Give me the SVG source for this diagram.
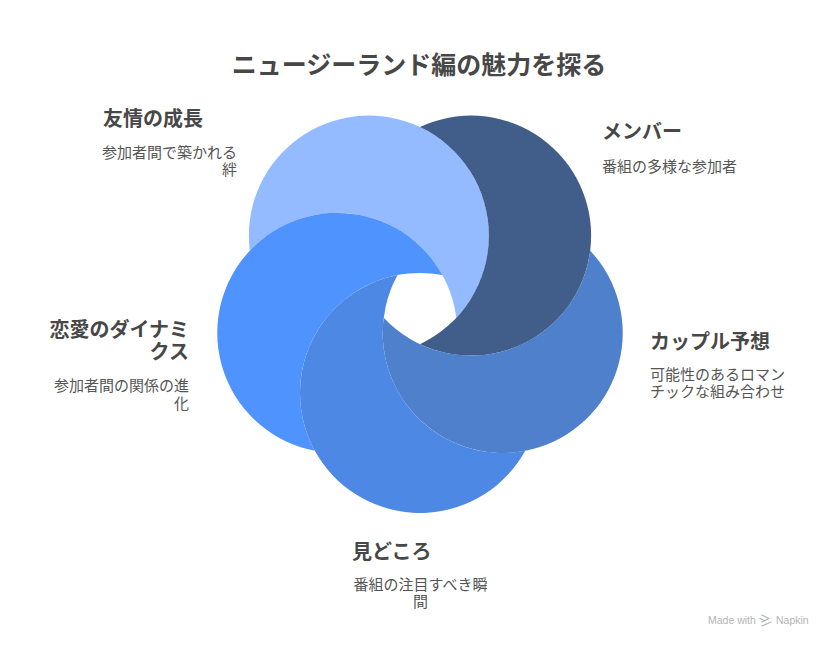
<svg xmlns="http://www.w3.org/2000/svg" width="840" height="648" viewBox="0 0 840 648">
  <style>
    text { font-family: "Noto Sans CJK JP", "Noto Sans", sans-serif; }
    .title { font-size: 25px; font-weight: 700; fill: #474747; }
    .head { font-size: 20px; font-weight: 700; fill: #474747; }
    .desc { font-size: 15px; fill: #555555; }
    .mark { font-family: "Liberation Sans", Arial, sans-serif; font-size: 10.5px; fill: #b4b4b4; }
  </style>
  <rect x="0" y="0" width="840" height="648" fill="#ffffff"/>
  <text class="title" x="419" y="74" text-anchor="middle">ニュージーランド編の魅力を探る</text>

  <g id="connectors"></g>

  <g id="node-friendship">
    <path d="M 249.82 250.70 A 120 120 0 1 1 456.31 317.80 A 120 120 0 0 0 249.82 250.70 Z" fill="#94bbff"/>
    <text class="head" x="103" y="126">友情の成長</text>
    <text class="desc" x="237" y="158" text-anchor="end">参加者間で築かれる</text>
    <text class="desc" x="237" y="175" text-anchor="end">絆</text>
  </g>

  <g id="node-members">
    <path d="M 420 127.06 A 120 120 0 1 1 420 344.18 A 120 120 0 0 0 420 127.06 Z" fill="#415d89"/>
    <text class="head" x="602" y="139">メンバー</text>
    <text class="desc" x="602" y="172">番組の多様な参加者</text>
  </g>

  <g id="node-couple">
    <path d="M 590.18 250.70 A 120 120 0 1 1 383.69 317.80 A 120 120 0 0 0 590.18 250.70 Z" fill="#4f80cb"/>
    <text class="head" x="650" y="349">カップル予想</text>
    <text class="desc" x="650" y="380">可能性のあるロマン</text>
    <text class="desc" x="650" y="397">チックな組み合わせ</text>
  </g>

  <g id="node-highlights">
    <path d="M 525.18 450.77 A 120 120 0 1 1 397.56 275.11 A 120 120 0 0 0 525.18 450.77 Z" fill="#4d89e4"/>
    <text class="head" x="352" y="559">見どころ</text>
    <text class="desc" x="420.5" y="590" text-anchor="middle">番組の注目すべき瞬</text>
    <text class="desc" x="420.5" y="607" text-anchor="middle">間</text>
  </g>

  <g id="node-romance">
    <path d="M 314.82 450.77 A 120 120 0 1 1 442.44 275.11 A 120 120 0 0 0 314.82 450.77 Z" fill="#4f93ff"/>
    <text class="head" x="189" y="337" text-anchor="end">恋愛のダイナミ</text>
    <text class="head" x="189" y="359" text-anchor="end">クス</text>
    <text class="desc" x="189" y="391" text-anchor="end">参加者間の関係の進</text>
    <text class="desc" x="189" y="409" text-anchor="end">化</text>
  </g>

  <g id="watermark">
    <text class="mark" x="708" y="624">Made with</text>
    <g fill="none" stroke="#b4b4b4" stroke-width="1.2" stroke-linecap="round" stroke-linejoin="round">
      <path d="M 762 615 L 769 618.5 L 762 622"/>
      <path d="M 762 626 L 771 622"/>
      <path d="M 760 618.5 L 764 620.5"/>
    </g>
    <text class="mark" x="776" y="624">Napkin</text>
  </g>
</svg>
